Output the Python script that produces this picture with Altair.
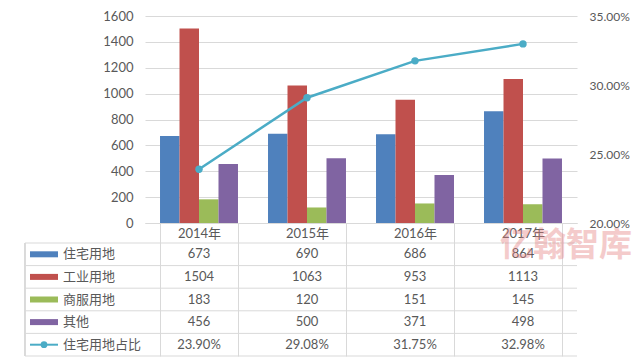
import altair as alt
import pandas as pd

years = ["2014年", "2015年", "2016年", "2017年"]
series = ["住宅用地", "工业用地", "商服用地", "其他"]
residential = [673, 690, 686, 864]
industrial = [1504, 1063, 953, 1113]
commercial = [183, 120, 151, 145]
other = [456, 500, 371, 498]
share_name = "住宅用地占比"
share = [0.2390, 0.2908, 0.3175, 0.3298]
colors = ["#4F81BD", "#C0504D", "#9BBB59", "#8064A2", "#4BACC6"]
rows = series + [share_name]
watermark = ["亿翰智库"]

NUMFONT = 'Lato, "Noto Sans CJK SC"'
CJK = '"Noto Sans CJK SC"'
GREY = "#595959"
LINE = "#D9D9D9"

bar_rows = []
for s, vals in zip(series, [residential, industrial, commercial, other]):
    for y, v in zip(years, vals):
        bar_rows.append({"year": y, "series": s, "value": v, "label": str(v)})
bars_df = pd.DataFrame(bar_rows)
line_df = pd.DataFrame({"year": years, "share": share, "series": share_name})
table_df = pd.concat([
    bars_df[["year", "series", "label"]],
    pd.DataFrame({"year": years, "series": share_name,
                  "label": [f"{p * 100:.2f}%" for p in share]}),
], ignore_index=True).rename(columns={"series": "row"})
legend_df = pd.DataFrame({"row": rows})
wm_df = pd.DataFrame({"t": watermark})

W, H = 432, 207
TABLE_BOTTOM = 340
ROW_TOP = 227
LEFT_EDGE = -120

color_scale = alt.Scale(domain=rows, range=colors)
row_scale = alt.Scale(type="band", domain=rows, range=[ROW_TOP, TABLE_BOTTOM],
                      paddingInner=0, paddingOuter=0)

x_enc = alt.X(
    "year:N", sort=years,
    scale=alt.Scale(domain=years, paddingInner=0.278, paddingOuter=0.139),
    axis=alt.Axis(title=None, grid=False, domain=True, domainColor=LINE,
                  ticks=True, tickBand="extent", tickSize=TABLE_BOTTOM - H,
                  tickColor=LINE, labelPadding=10 - (TABLE_BOTTOM - H),
                  labelBaseline="middle", labelFontSize=13, labelColor=GREY,
                  labelFont=NUMFONT, labelAngle=0),
)
x_plain = alt.X("year:N", sort=years)

bars = alt.Chart(bars_df).mark_bar().encode(
    x=x_enc,
    xOffset=alt.XOffset("series:N", sort=series,
                        scale=alt.Scale(domain=series, paddingInner=0, paddingOuter=0)),
    y=alt.Y("value:Q", scale=alt.Scale(domain=[0, 1600]),
            axis=alt.Axis(title=None, values=list(range(0, 1601, 200)), format="d",
                          domain=False, ticks=False, grid=True, gridColor=LINE,
                          labelPadding=12, labelFontSize=13, labelColor=GREY,
                          labelFont=NUMFONT)),
    color=alt.Color("series:N", scale=color_scale, legend=None),
)

line = alt.Chart(line_df).mark_line(
    color=colors[4], strokeWidth=2.5,
    point=alt.OverlayMarkDef(filled=True, size=55, color=colors[4], opacity=1),
).encode(
    x=x_plain,
    y=alt.Y("share:Q", scale=alt.Scale(domain=[0.2, 0.35]),
            axis=alt.Axis(title=None, orient="right", format=".2%",
                          values=[0.2, 0.25, 0.3, 0.35], grid=False, domain=False,
                          ticks=False, labelPadding=12, labelAlign="left",
                          labelFontSize=12, labelColor=GREY, labelFont=NUMFONT)),
)

table_text = alt.Chart(table_df).mark_text(fontSize=13, color=GREY, font=NUMFONT).encode(
    x=x_plain,
    y=alt.Y("row:N", scale=row_scale, axis=None, bandPosition=0.5),
    text="label:N",
)

hlines = alt.Chart(legend_df).mark_rule(color=LINE, strokeWidth=1).encode(
    x=alt.value(LEFT_EDGE), x2=alt.value(W),
    y=alt.Y("row:N", scale=row_scale, axis=None, bandPosition=0),
)
bottom_line = alt.Chart(legend_df).transform_filter(
    alt.datum.row == share_name
).mark_rule(color=LINE, strokeWidth=1).encode(
    x=alt.value(LEFT_EDGE), x2=alt.value(W),
    y=alt.Y("row:N", scale=row_scale, axis=None, bandPosition=1),
)
left_border = alt.Chart(legend_df).mark_rule(color=LINE, strokeWidth=1).encode(
    x=alt.value(LEFT_EDGE), y=alt.value(ROW_TOP), y2=alt.value(TABLE_BOTTOM),
)

swatches = alt.Chart(legend_df).transform_filter(
    alt.datum.row != share_name
).mark_rule(strokeWidth=6).encode(
    x=alt.value(-115), x2=alt.value(-87),
    y=alt.Y("row:N", scale=row_scale, axis=None, bandPosition=0.5),
    color=alt.Color("row:N", scale=color_scale, legend=None),
)
line_swatch = alt.Chart(legend_df).transform_filter(
    alt.datum.row == share_name
).mark_rule(strokeWidth=2, color=colors[4]).encode(
    x=alt.value(-115), x2=alt.value(-87),
    y=alt.Y("row:N", scale=row_scale, axis=None, bandPosition=0.5),
)
line_swatch_pt = alt.Chart(legend_df).transform_filter(
    alt.datum.row == share_name
).mark_point(filled=True, size=45, opacity=1, color=colors[4]).encode(
    x=alt.value(-101),
    y=alt.Y("row:N", scale=row_scale, axis=None, bandPosition=0.5),
)
legend_labels = alt.Chart(legend_df).mark_text(
    align="left", baseline="middle", fontSize=13, color=GREY, font=CJK
).encode(
    x=alt.value(-82),
    y=alt.Y("row:N", scale=row_scale, axis=None, bandPosition=0.5),
    text="row:N",
)

wm = alt.Chart(wm_df).mark_text(
    fontSize=33, color="#E58080", opacity=0.4, font=CJK, fontWeight="bold"
).encode(x=alt.value(421), y=alt.value(230), text="t:N")

chart = alt.layer(
    bars, line, table_text, hlines, bottom_line, left_border,
    swatches, line_swatch, line_swatch_pt, legend_labels, wm,
).resolve_scale(y="independent").properties(
    width=W, height=H,
    padding={"left": 137, "top": 8, "right": 55, "bottom": 135},
    autosize=alt.AutoSizeParams(type="none"),
    background="white",
).configure_view(stroke=None)

chart.save("out.html", embed_options={"renderer": "svg", "actions": False})
